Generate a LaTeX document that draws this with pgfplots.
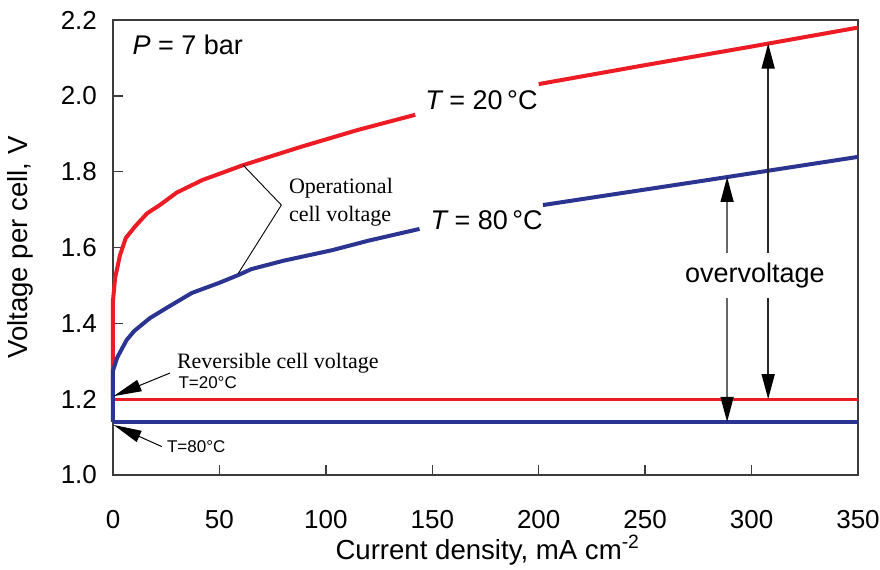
\documentclass[border=0pt]{standalone}
\usepackage{pgfplots}
\pgfplotsset{compat=1.18}
\usepackage{fontspec}
\setmainfont{Liberation Sans}
\newfontfamily\serif{Liberation Serif}
\usetikzlibrary{arrows.meta}
\definecolor{cred}{RGB}{237,28,36}
\definecolor{cblue}{RGB}{44,52,145}
\definecolor{axgray}{RGB}{60,60,60}
\begin{document}
\begin{tikzpicture}
\begin{axis}[name=ax, at={(0,0)}, anchor=south west,
  scale only axis, width=372.5pt, height=227.5pt,
  xmin=0, xmax=350, ymin=1.0, ymax=2.2,
  xtick={0,50,100,150,200,250,300,350},
  ytick={1.0,1.2,1.4,1.6,1.8,2.0,2.2},
  tick align=inside, xtick pos=bottom, ytick pos=left,
  major tick length=5pt,
  axis line style={axgray, line width=0.8pt},
  every tick/.style={axgray, line width=0.7pt},
  /pgf/number format/assume math mode=true,
  yticklabel style={/pgf/number format/fixed, /pgf/number format/fixed zerofill, /pgf/number format/precision=1},
  tick label style={font=\fontsize{13}{15}\selectfont},
  xticklabel style={anchor=center, yshift=-22.5pt},
  yticklabel style={anchor=east, xshift=-4.5pt},
  xlabel={Current density, mA cm\textsuperscript{-2}},
  ylabel={Voltage per cell, V},
  label style={font=\fontsize{13.8}{16}\selectfont},
  xlabel style={at={(axis description cs:0.503,0)}, anchor=center, yshift=-37.5pt},
  ylabel style={at={(axis description cs:-0.1248,0.5)}, anchor=center},
  clip=false,
]
% reversible cell voltages
\addplot[cred, line width=1.6pt] coordinates {(0,1.20) (350,1.20)};
\addplot[cblue, line width=1.6pt] coordinates {(0,1.14) (350,1.14)};
% operational cell voltage, T = 20 C
\addplot[cred, line width=2pt] coordinates {
(0,1.20) (0,1.46) (1,1.52) (3.3,1.58) (6,1.625) (10.3,1.655) (16,1.69) (22,1.712)
(30,1.745) (42,1.778) (61,1.817) (88,1.865) (115,1.91) (142,1.95)};
\addplot[cred, line width=2pt] coordinates {(200,2.031) (250,2.081) (300,2.13) (350,2.18)};
% operational cell voltage, T = 80 C
\addplot[cblue, line width=2pt] coordinates {
(0,1.14) (0,1.275) (2,1.31) (6.4,1.356) (10,1.38) (17.4,1.414) (25,1.44) (37,1.48)
(50,1.507) (58.7,1.527) (65,1.543) (80,1.565) (103,1.593) (120,1.618) (144,1.649)};
\addplot[cblue, line width=2pt] coordinates {(202,1.712) (276,1.775) (350,1.839)};
% annotations
\node[anchor=west, inner sep=0, font=\fontsize{13.5}{16}\selectfont] at (axis cs:9,2.134) {\itshape P\upshape{} = 7 bar};
\node[anchor=west, inner sep=0, font=\fontsize{13.5}{16}\selectfont] at (axis cs:146.6,1.989) {\itshape T\upshape{} = 20\,°C};
\node[anchor=west, inner sep=0, font=\fontsize{13.5}{16}\selectfont] at (axis cs:149,1.672) {\itshape T\upshape{} = 80\,°C};
\draw[black, line width=0.45pt] (axis cs:61.1,1.8175) -- (axis cs:79.1,1.712) -- (axis cs:58.9,1.532);
\node[anchor=west, inner sep=0, align=left, font=\serif\fontsize{11}{14.3}\selectfont] at (axis cs:82.5,1.719) {Operational\\cell voltage};
\node[anchor=west, inner sep=0, font=\serif\fontsize{11}{13}\selectfont] at (axis cs:29.9,1.296) {Reversible cell voltage};
\node[anchor=west, inner sep=0, font=\fontsize{8.5}{10}\selectfont] at (axis cs:30.6,1.243) {T=20°C};
\node[anchor=west, inner sep=0, font=\fontsize{8.5}{10}\selectfont] at (axis cs:25.2,1.075) {T=80°C};
\draw[black, line width=0.5pt, -{Triangle[length=14pt,width=6pt]}] (axis cs:26.8,1.269) -- (axis cs:0.3,1.208);
\draw[black, line width=0.5pt, -{Triangle[length=14pt,width=6pt]}] (axis cs:22.9,1.075) -- (axis cs:0.3,1.132);
% overvoltage arrows
\draw[black!60, line width=0.7pt, {Triangle[length=12.5pt,width=6.5pt,color=black]}-{Triangle[length=12.5pt,width=6.5pt,color=black]}] (axis cs:288.5,1.786) -- (axis cs:288.5,1.14);
\draw[black!85, line width=0.7pt, {Triangle[length=12.5pt,width=6.5pt,color=black]}-{Triangle[length=12.5pt,width=6.5pt,color=black]}] (axis cs:307.8,2.138) -- (axis cs:307.8,1.20);
\node[fill=white, inner xsep=1pt, inner ysep=5pt, font=\fontsize{13.5}{16}\selectfont] at (axis cs:301.6,1.527) {overvoltage};
\end{axis}
\pgfresetboundingbox
\path[use as bounding box] (ax.south west) ++(-56.5pt,-47pt) rectangle ++(440pt,284.5pt);
\end{tikzpicture}
\end{document}
